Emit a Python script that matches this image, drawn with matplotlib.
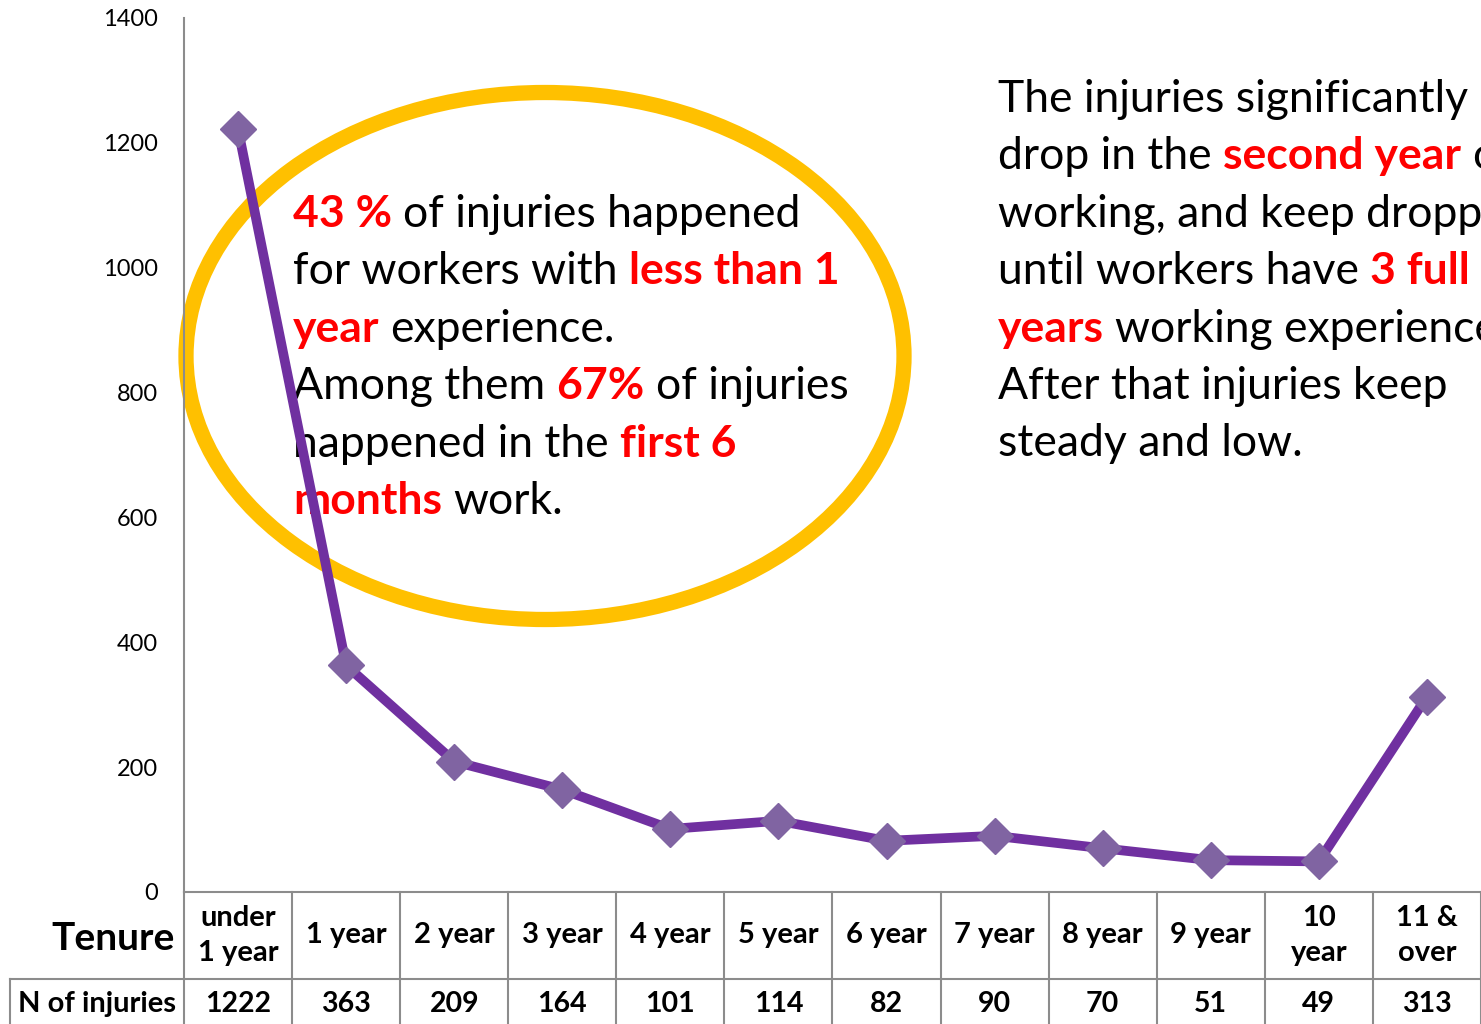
import matplotlib
matplotlib.use("Agg")
import matplotlib.pyplot as plt
from matplotlib.patches import Ellipse
from matplotlib.transforms import blended_transform_factory

plt.rcParams['font.family'] = ['Lato', 'DejaVu Sans']

# data
tenure = ['under\n1 year', '1 year', '2 year', '3 year', '4 year', '5 year',
          '6 year', '7 year', '8 year', '9 year', '10\nyear', '11 &\nover']
injuries = [1222, 363, 209, 164, 101, 114, 82, 90, 70, 51, 49, 313]
yticks = [0, 200, 400, 600, 800, 1000, 1200, 1400]

W, H = 1481, 1024
fig = plt.figure(figsize=(W / 100, H / 100), dpi=100)
ax = fig.add_axes([184 / W, 132 / H, 1 - 184 / W, 874 / H])

x = list(range(len(injuries)))
ax.plot(x, injuries, color='#7030A0', lw=7, marker='D', ms=18,
        mfc='#8064A2', mec='#8064A2', zorder=5, clip_on=False)

ax.set_xlim(-0.5, len(injuries) - 0.5)
ax.set_ylim(0, 1400)
ax.set_yticks(yticks)
ax.set_xticks([])
ax.tick_params(axis='y', length=0, pad=19, labelsize=17)
for s in ['top', 'right']:
    ax.spines[s].set_visible(False)
gray = '#8c8c8c'
ax.spines['left'].set_color(gray)
ax.spines['bottom'].set_color(gray)
ax.spines['left'].set_linewidth(1.5)
ax.spines['bottom'].set_linewidth(1.5)

# table under the axis
tr = blended_transform_factory(ax.transData, ax.transAxes)
row1 = -87 / 874
n = len(injuries)
xleft = -0.5 - 174 / 108.2
for k in range(n + 1):
    ax.plot([k - 0.5, k - 0.5], [0, -0.3], color=gray, lw=1.5, transform=tr, clip_on=False)
ax.plot([xleft, n], [row1, row1], color=gray, lw=1.5, transform=tr, clip_on=False)
ax.plot([xleft, xleft], [row1, -0.3], color=gray, lw=1.5, transform=tr, clip_on=False)
for i in range(n):
    ax.text(i, row1 / 2, tenure[i], transform=tr, ha='center', va='center',
            fontsize=21, fontweight='bold', linespacing=1.45, clip_on=False)
    ax.text(i, -112 / 874, str(injuries[i]), transform=tr, ha='center', va='center',
            fontsize=20.5, fontweight='bold', clip_on=False)
ax.text(175 / W, 1 - 938 / H, 'Tenure', transform=fig.transFigure, ha='right', va='center',
        fontsize=28, fontweight='bold', clip_on=False)
ax.text(176 / W, 1 - 1004 / H, 'N of injuries', transform=fig.transFigure, ha='right', va='center',
        fontsize=21, fontweight='bold', clip_on=False)

# yellow ellipse
ax.add_patch(Ellipse((545 / W, 1 - 356 / H), 718 / W, 527 / H, transform=fig.transFigure,
                     fill=False, ec='#FFC000', lw=11, zorder=1, clip_on=False))

renderer = fig.canvas.get_renderer()
FS = 32


def width_of(s, weight):
    t = ax.text(0, 0, s, fontsize=FS, fontweight=weight, transform=fig.transFigure)
    w = t.get_window_extent(renderer=renderer).width
    t.remove()
    return w


def rich_line(xpx, ypx, parts):
    xx = xpx
    for j, (s, red) in enumerate(parts):
        wt = 'bold' if red else 'normal'
        t = ax.text(xx / W, 1 - ypx / H, s, transform=fig.transFigure, fontsize=FS,
                    fontweight=wt, color='#FF0000' if red else 'black',
                    va='baseline', ha='left', clip_on=False, zorder=3)
        xx += t.get_window_extent(renderer=renderer).width
        xx += width_of('n n', wt) - width_of('nn', wt)


left_lines = [
    [('43 %', True), ('of injuries happened', False)],
    [('for workers with', False), ('less than 1', True)],
    [('year', True), ('experience.', False)],
    [('Among them', False), ('67%', True), ('of injuries', False)],
    [('happened in the', False), ('first 6', True)],
    [('months', True), ('work.', False)],
]
right_lines = [
    [('The injuries significantly', False)],
    [('drop in the', False), ('second year', True), ('of', False)],
    [('working, and keep dropping', False)],
    [('until workers have', False), ('3 full', True)],
    [('years', True), ('working experience.', False)],
    [('After that injuries keep', False)],
    [('steady and low.', False)],
]
for k, parts in enumerate(left_lines):
    rich_line(293, 227 + 57.4 * k, parts)
for k, parts in enumerate(right_lines):
    rich_line(998, 112 + 57.4 * k, parts)

fig.savefig('out.png', dpi=100)
